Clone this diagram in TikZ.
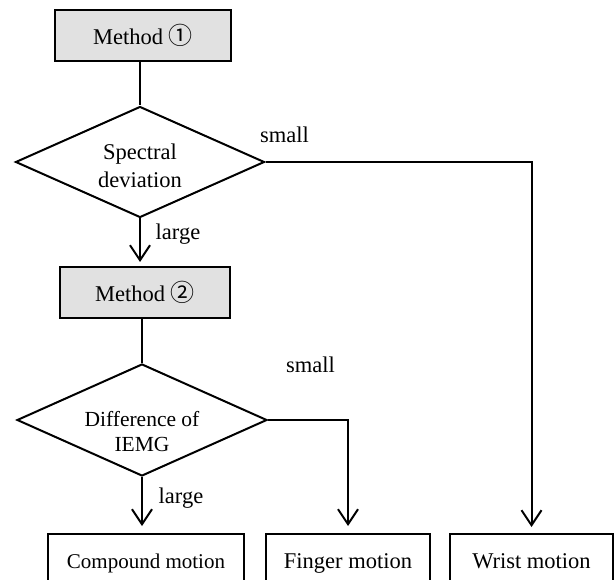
\documentclass[tikz,border=0pt]{standalone}
\usepackage{fontspec}
\setmainfont{Liberation Serif}
\newfontfamily\symf{Noto Sans CJK SC}
\usetikzlibrary{shapes.geometric,arrows.meta}
\definecolor{boxgray}{RGB}{225,225,225}
\begin{document}
\begin{tikzpicture}[x=1pt,y=-1pt,
  line width=2pt,
  every node/.style={font=\fontsize{22.5}{28}\selectfont},
  graybox/.style={draw, fill=boxgray, rectangle, inner sep=0pt},
  outbox/.style={draw, rectangle, inner xsep=0pt, inner ysep=0pt, text height=34pt, text depth=23pt, anchor=north},
  dec/.style={draw, diamond, inner sep=0pt},
  lbl/.style={inner sep=0pt},
  arr/.style={-{Straight Barb[length=15pt,width=20pt]}}
]
\clip (0,0) rectangle (616,580);

\node[graybox, minimum width=176pt, minimum height=51pt] (m1) at (143,35.5) {Method {\symf\fontsize{24}{24}\selectfont ①}};
\node[dec, minimum width=249pt, minimum height=111pt] (d1) at (140,162) {};
\node[lbl, align=center] (d1t) at (140,165.5) {Spectral\\deviation};

\node[graybox, minimum width=170pt, minimum height=51pt] (m2) at (145,292.5) {Method {\symf\fontsize{24}{24}\selectfont ②}};
\node[dec, minimum width=250pt, minimum height=112pt] (d2) at (142,420) {};
\node[lbl, align=center, font=\fontsize{21.5}{25}\selectfont] (d2t) at (142,432) {Difference of\\IEMG};

\node[outbox, minimum width=196pt, font=\fontsize{21}{25}\selectfont] (cm) at (146,533) {Compound motion};
\node[outbox, minimum width=164pt] (fm) at (348,533) {Finger motion};
\node[outbox, minimum width=163pt] (wm) at (531.5,533) {Wrist motion};

\draw (d1.north |- m1.south) -- (d1.north);
\draw[arr, shorten >=4pt] (d1.south) -- (d1.south |- m2.north);
\draw (d2.north |- m2.south) -- (d2.north);
\draw[arr, shorten >=7pt] (d2.south) -- (d2.south |- cm.north);
\draw[arr, shorten >=7pt] (d2.east) -| (fm.north);
\draw[arr, shorten >=6pt] (d1.east) -| (wm.north);

\node[lbl] (s1) at (284.5,135) {small};
\node[lbl] (s2) at (310.5,364.5) {small};
\node[lbl] (l1) at (178,234) {large};
\node[lbl] (l2) at (181,498) {large};
\end{tikzpicture}
\end{document}
